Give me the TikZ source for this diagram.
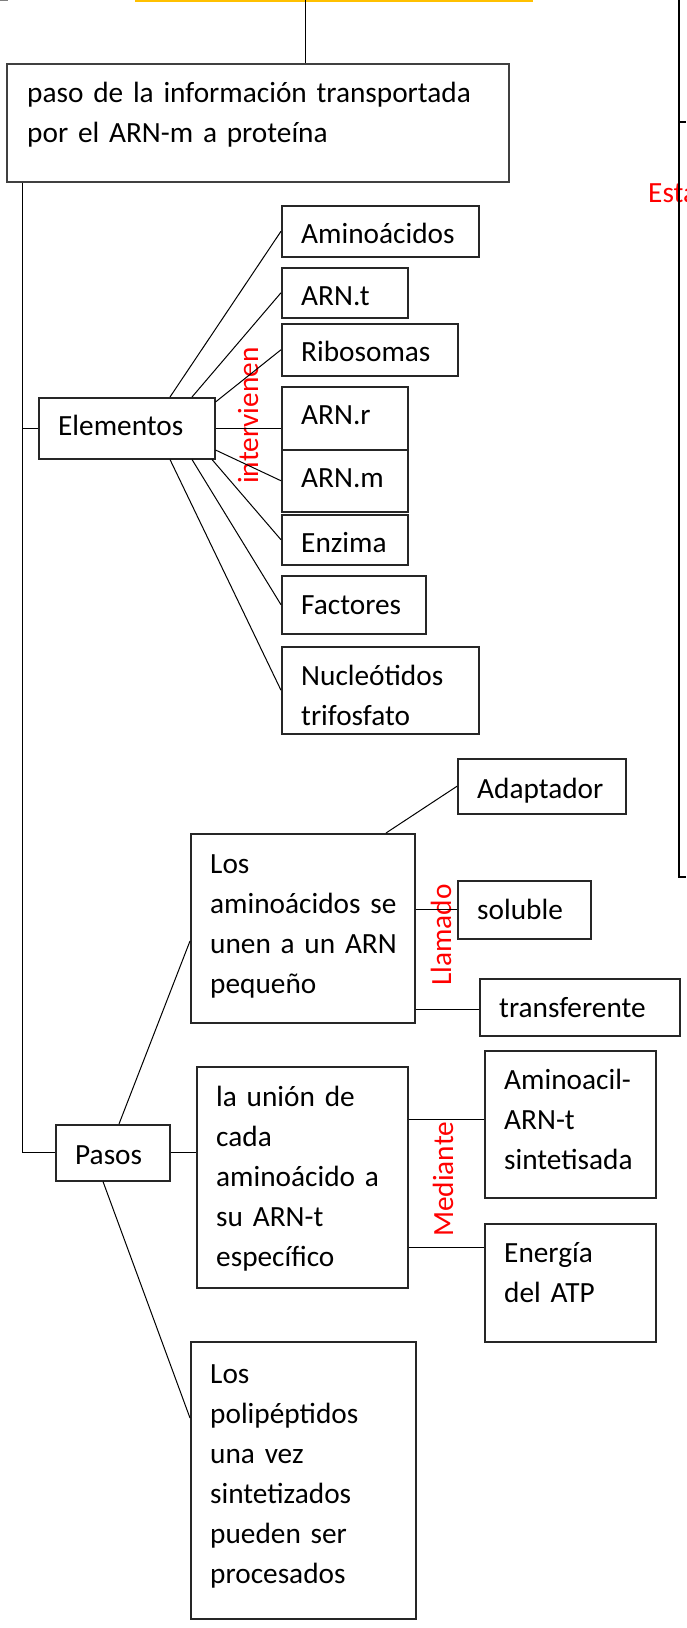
\documentclass[tikz,border=0pt]{standalone}
\usepackage{fontspec}
\setmainfont{Carlito}[WordSpace={1,0,0}]
\usetikzlibrary{calc}
\definecolor{ygold}{HTML}{FFC000}
\definecolor{lblred}{HTML}{FF0000}
\begin{document}
\begin{tikzpicture}[x=1pt,y=-1pt,
  box/.style={draw=black!85, line width=1.5pt, rectangle, inner sep=0pt, anchor=north west},
  txt/.style={inner sep=0pt, anchor=base west, align=left, text width=700pt, font=\fontsize{29.3}{40}\selectfont},
  redlbl/.style={inner sep=0pt, anchor=base west, rotate=90, text=lblred, font=\fontsize{29.3}{40}\selectfont},
  conn/.style={draw=black, line width=1pt},
]
\useasboundingbox (0,0) rectangle (686,1628);
\fill[white] (0,0) rectangle (686,1628);

% top fragments
\draw[gray, line width=1.5pt] (0,0.7) -- (8,0.7);
\draw[ygold, line width=2pt] (135,1) -- (533,1);

% boxes
\node[box, draw=black!75, minimum width=502pt, minimum height=118pt] (paso) at (6,63) {};
\node[box, minimum width=176pt, minimum height=61pt] (elem) at (38,397) {};
\node[box, minimum width=197pt, minimum height=51pt] (amino) at (281,205) {};
\node[box, minimum width=126pt, minimum height=50pt] (arnt) at (281,267) {};
\node[box, minimum width=176pt, minimum height=52pt] (ribo) at (281,323) {};
\node[box, minimum width=126pt, minimum height=63pt] (arnr) at (281,386) {};
\node[box, minimum width=126pt, minimum height=62pt] (arnm) at (281,449) {};
\node[box, minimum width=126pt, minimum height=50pt] (enz) at (281,514) {};
\node[box, minimum width=144pt, minimum height=58pt] (fact) at (281,575) {};
\node[box, minimum width=197pt, minimum height=87pt] (nucl) at (281,646) {};
\node[box, minimum width=114pt, minimum height=56pt] (pasos) at (55,1124) {};
\node[box, minimum width=224pt, minimum height=189pt] (losam) at (190,833) {};
\node[box, minimum width=168pt, minimum height=55pt] (adapt) at (457,758) {};
\node[box, minimum width=133pt, minimum height=58pt] (solu) at (457,880) {};
\node[box, minimum width=200pt, minimum height=57pt] (transf) at (479,978) {};
\node[box, minimum width=211pt, minimum height=221pt] (union) at (196,1066) {};
\node[box, minimum width=171pt, minimum height=147pt] (amac) at (484,1050) {};
\node[box, minimum width=171pt, minimum height=118pt] (energ) at (484,1223) {};
\node[box, minimum width=225pt, minimum height=277pt] (polip) at (190,1341) {};

% texts
\node[txt] (tpaso) at ($(paso.north west)+(21,39)$) {paso de la información transportada\\por el ARN-m a proteína};
\node[txt] (telem) at ($(elem.north west)+(20,38)$) {Elementos};
\node[txt] (tamino) at ($(amino.north west)+(20,38)$) {Aminoácidos};
\node[txt] (tarnt) at ($(arnt.north west)+(20,38)$) {ARN.t};
\node[txt] (tribo) at ($(ribo.north west)+(20,38)$) {Ribosomas};
\node[txt] (tarnr) at ($(arnr.north west)+(20,38)$) {ARN.r};
\node[txt] (tarnm) at ($(arnm.north west)+(20,38)$) {ARN.m};
\node[txt] (tenz) at ($(enz.north west)+(20,38)$) {Enzima};
\node[txt] (tfact) at ($(fact.north west)+(20,39)$) {Factores};
\node[txt] (tnucl) at ($(nucl.north west)+(20,39)$) {Nucleótidos\\trifosfato};
\node[txt] (tpasos) at ($(pasos.north west)+(20,40)$) {Pasos};
\node[txt] (tlosam) at ($(losam.north west)+(20,40)$) {Los\\aminoácidos se\\unen a un ARN\\pequeño};
\node[txt] (tadapt) at ($(adapt.north west)+(20,40)$) {Adaptador};
\node[txt] (tsolu) at ($(solu.north west)+(20,39)$) {soluble};
\node[txt] (ttransf) at ($(transf.north west)+(20,39)$) {transferente};
\node[txt] (tunion) at ($(union.north west)+(20,40)$) {la unión de\\cada\\aminoácido a\\su ARN-t\\específico};
\node[txt] (tamac) at ($(amac.north west)+(20,39)$) {Aminoacil-\\ARN-t\\sintetisada};
\node[txt] (tenerg) at ($(energ.north west)+(20,39)$) {Energía\\del ATP};
\node[txt] (tpolip) at ($(polip.north west)+(20,42)$) {Los\\polipéptidos\\una vez\\sintetizados\\pueden ser\\procesados};

% red labels
\node[redlbl] (lint) at (258,484) {intervienen};
\node[redlbl] (llam) at (451,986) {Llamado};
\node[redlbl] (lmed) at (453,1237) {Mediante};
\node[inner sep=0pt, anchor=base west, text=lblred, font=\fontsize{29.3}{40}\selectfont] (lesta) at (648,202) {Esta};

% right fragments
\coordinate (rt) at (679,0);
\coordinate (rb) at (679,877);
\coordinate (rm) at (679,122);
\coordinate (redge) at (686,0);
\draw[conn, line width=1.3pt] (rt) -- (rb) -- (rb -| redge);
\draw[conn, line width=1.3pt] (rm) -- (rm -| redge);

% connectors
\coordinate (topc) at (305,0);
\draw[conn] (topc) -- (topc |- paso.north);
\coordinate (trunk) at ($(paso.south west)+(16.5,0)$);
\draw[conn] (trunk) -- (trunk |- pasos.west) -- (pasos.west);
\draw[conn] (trunk |- elem.west) -- (elem.west);

\draw[conn] ($(elem.north west)+(132,0)$) -- (amino.west);
\draw[conn] ($(elem.north west)+(154,0)$) -- (arnt.west);
\draw[conn] ($(elem.north east)+(0,5)$) -- (ribo.west);
\draw[conn] (elem.east) -- (elem.east -| arnr.west);
\draw[conn] ($(elem.north east)+(0,53)$) -- (arnm.west);
\draw[conn] ($(elem.south west)+(174,0)$) -- (enz.west);
\draw[conn] ($(elem.south west)+(154,0)$) -- (fact.west);
\draw[conn] ($(elem.south west)+(132,0)$) -- (nucl.west);

\draw[conn] ($(pasos.north west)+(64,0)$) -- ($(losam.north west)+(0,108)$);
\draw[conn] ($(pasos.south west)+(48,0)$) -- ($(polip.north west)+(0,77)$);
\draw[conn] (pasos.east) -- (pasos.east -| union.west);

\draw[conn] ($(losam.north west)+(196,0)$) -- (adapt.west);
\draw[conn] (solu.west -| losam.east) -- (solu.west);
\draw[conn] ($(losam.north east)+(0,176)$) coordinate (tl) -- (tl -| transf.west);

\draw[conn] ($(union.north east)+(0,53)$) coordinate (ua) -- (ua -| amac.west);
\draw[conn] ($(union.north east)+(0,181)$) coordinate (ue) -- (ue -| energ.west);
\end{tikzpicture}
\end{document}
